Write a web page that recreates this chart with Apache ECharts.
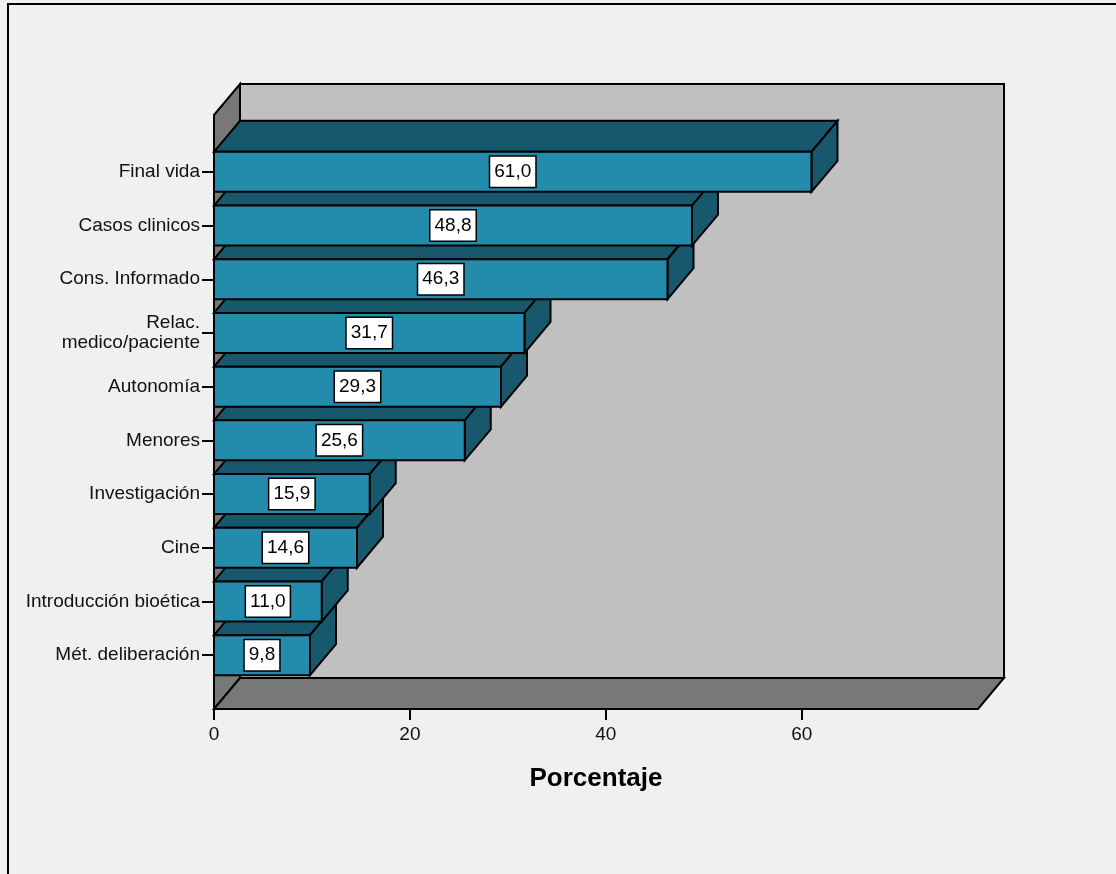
<!DOCTYPE html>
<html>
<head>
<meta charset="utf-8">
<script src="https://cdn.jsdelivr.net/npm/echarts@6/dist/echarts.min.js"></script>
<style>
  html, body { margin: 0; padding: 0; background: #f0f0f0; }
  #chart { width: 1116px; height: 874px; }
</style>
</head>
<body>
<div id="chart"></div>
<script>
// Topics, listed from top to bottom
const categories = [
  'Final vida',
  'Casos clinicos',
  'Cons. Informado',
  'Relac.\nmedico/paciente',
  'Autonomía',
  'Menores',
  'Investigación',
  'Cine',
  'Introducción bioética',
  'Mét. deliberación'
];
// Percentage for each topic
const percentages = [61.0, 48.8, 46.3, 31.7, 29.3, 25.6, 15.9, 14.6, 11.0, 9.8];
// Value axis ticks and extent
const xTicks = [0, 20, 40, 60];
const xMax = 78;

// 3D look: depth offset of the box and bars
const DX = 26, DY = -31;
const FRONT = '#238bab', SIDE = '#17586c';
const WALL_BACK = '#c0c0c0', WALL_SIDE = '#787878';
const FONT = '"Liberation Sans", Arial, sans-serif';

const fmt = v => v.toFixed(1).replace('.', ',');

const chart = echarts.init(document.getElementById('chart'), null, { renderer: 'canvas' });

function renderWalls(params, api) {
  const cs = params.coordSys;
  const x0 = cs.x, x1 = cs.x + cs.width;
  const top = cs.y - 30;                // front edge of the left wall
  const bottom = cs.y + cs.height + 27; // front edge of the floor
  const stroke = { stroke: '#000', lineWidth: 2, lineJoin: 'miter' };
  return {
    type: 'group',
    children: [
      { type: 'rect', shape: { x: x0 + DX, y: top + DY, width: cs.width, height: bottom - top },
        style: Object.assign({ fill: WALL_BACK }, stroke) },
      { type: 'polygon', shape: { points: [[x0, top], [x0 + DX, top + DY], [x0 + DX, bottom + DY], [x0, bottom]] },
        style: Object.assign({ fill: WALL_SIDE }, stroke) },
      { type: 'polygon', shape: { points: [[x0, bottom], [x0 + DX, bottom + DY], [x1 + DX, bottom + DY], [x1, bottom]] },
        style: Object.assign({ fill: WALL_SIDE }, stroke) }
    ]
  };
}

function renderBar(params, api) {
  const idx = api.value(1);
  const val = api.value(0);
  const p0 = api.coord([0, idx]);
  const p1 = api.coord([val, idx]);
  const h = api.size([0, 1])[1] * 0.745;
  const x0 = p0[0], x1 = p1[0];
  const y0 = p0[1] - h / 2, y1 = p0[1] + h / 2;
  const z = (categories.length - idx) * 10;
  const st = (fill) => ({ fill: fill, stroke: '#000', lineWidth: 2, lineJoin: 'miter' });
  return {
    type: 'group',
    children: [
      { type: 'polygon', z2: z, shape: { points: [[x0, y0], [x0 + DX, y0 + DY], [x1 + DX, y0 + DY], [x1, y0]] }, style: st(SIDE) },
      { type: 'polygon', z2: z, shape: { points: [[x1, y0], [x1 + DX, y0 + DY], [x1 + DX, y1 + DY], [x1, y1]] }, style: st(SIDE) },
      { type: 'rect', z2: z + 1, shape: { x: x0, y: y0, width: x1 - x0, height: h }, style: st(FRONT) },
      { type: 'text', z2: z + 2, x: (x0 + x1) / 2, y: (y0 + y1) / 2,
        style: {
          text: fmt(val), fill: '#000', font: '19px ' + FONT,
          align: 'center', verticalAlign: 'middle',
          backgroundColor: '#fff', borderColor: '#000', borderWidth: 1.5,
          padding: [6, 4, 4, 4], lineHeight: 20
        } }
    ]
  };
}

const option = {
  backgroundColor: '#f0f0f0',
  animation: false,
  graphic: [{
    type: 'rect', z: 100, silent: true,
    shape: { x: 8, y: 4, width: 1130, height: 900 },
    style: { fill: 'none', stroke: '#000', lineWidth: 2 }
  }],
  grid: { left: 214, right: 138, top: 145, bottom: 192, containLabel: false },
  xAxis: {
    type: 'value', min: 0, max: xMax, interval: 20, offset: 27,
    name: 'Porcentaje', nameLocation: 'middle', nameGap: 57,
    nameTextStyle: { fontFamily: FONT, fontWeight: 'bold', fontSize: 26, color: '#000' },
    axisLine: { show: true, lineStyle: { color: '#000', width: 2 } },
    axisTick: { show: true, length: 11, customValues: xTicks, lineStyle: { color: '#000', width: 2 } },
    axisLabel: { customValues: xTicks, margin: 16, fontFamily: FONT, fontSize: 19, color: '#111' },
    splitLine: { show: false }
  },
  yAxis: {
    type: 'category', data: categories, inverse: true,
    axisLine: { show: false },
    axisTick: { show: true, alignWithLabel: true, length: 12, lineStyle: { color: '#000', width: 2 } },
    axisLabel: { margin: 14, fontFamily: FONT, fontSize: 19, lineHeight: 20, color: '#111', align: 'right' },
    splitLine: { show: false }
  },
  series: [
    { type: 'custom', z: 1, silent: true, renderItem: renderWalls, data: [[0, 0]], encode: { x: 0, y: 1 }, clip: false },
    { type: 'custom', z: 2, silent: true, renderItem: renderBar, clip: false,
      encode: { x: 0, y: 1 },
      data: percentages.map((v, i) => [v, i]) }
  ]
};
chart.setOption(option);
</script>
</body>
</html>
